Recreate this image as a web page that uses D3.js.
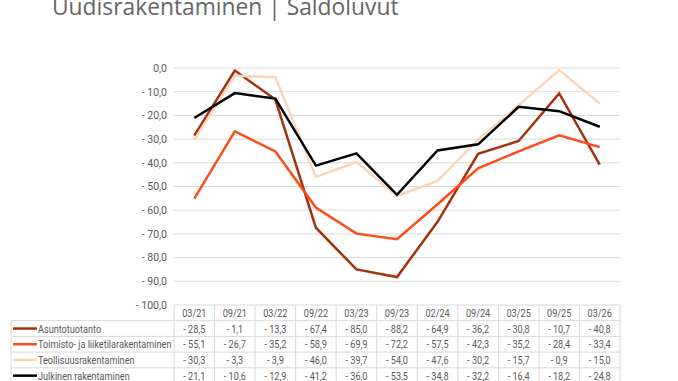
<!DOCTYPE html>
<html>
<head>
<meta charset="utf-8">
<script src="https://cdn.jsdelivr.net/npm/d3@7"></script>
<style>
  body { margin: 0; background: #fff; }
  svg { display: block; }
</style>
</head>
<body>
<div id="chart"></div>
<script>
const categories = ["03/21", "09/21", "03/22", "09/22", "03/23", "09/23", "02/24", "09/24", "03/25", "09/25", "03/26"];
const seriesNames = ["Asuntotuotanto", "Toimisto- ja liiketilarakentaminen", "Teollisuusrakentaminen", "Julkinen rakentaminen"];
const asunto = [-28.5, -1.1, -13.3, -67.4, -85.0, -88.2, -64.9, -36.2, -30.8, -10.7, -40.8];
const toimisto = [-55.1, -26.7, -35.2, -58.9, -69.9, -72.2, -57.5, -42.3, -35.2, -28.4, -33.4];
const teollisuus = [-30.3, -3.3, -3.9, -46.0, -39.7, -54.0, -47.6, -30.2, -15.7, -0.9, -15.0];
const julkinen = [-21.1, -10.6, -12.9, -41.2, -36.0, -53.5, -34.8, -32.2, -16.4, -18.2, -24.8];
const yTicks = [0, -10, -20, -30, -40, -50, -60, -70, -80, -90, -100];
const colors = ["#a3320f", "#fd4c18", "#f8d6ba", "#000000"];

const series = [asunto, toimisto, teollisuus, julkinen].map((v, i) => ({name: seriesNames[i], values: v, color: colors[i]}));

const W = 678, H = 381;
const plotLeft = 174, plotRight = 620, plotTop = 68, plotBottom = 305;
const rowH = 15.7;
const legendLeft = 11;
const narrow = 0.87; // squeeze table text horizontally like a narrow font
const fontTable = "Roboto, sans-serif";
const textColor = "#595959";

const svg = d3.select("#chart").append("svg")
    .attr("width", W).attr("height", H);

svg.append("text")
    .attr("x", 52).attr("y", 15)
    .attr("font-family", "Open Sans, sans-serif")
    .attr("font-size", 22.8)
    .attr("fill", "#666")
    .text("Uudisrakentaminen | Saldoluvut");

const x = d3.scaleBand().domain(categories).range([plotLeft, plotRight]);
const y = d3.scaleLinear().domain([-100, 0]).range([plotBottom, plotTop]);

const fmt = v => {
    const s = Math.abs(v).toFixed(1).replace(".", ",");
    return v < 0 ? "- " + s : s;
};

// narrow text helper
function narrowText(g, tx, ty, str, anchor) {
    g.append("text")
        .attr("transform", `translate(${tx},${ty}) scale(${narrow},1)`)
        .attr("text-anchor", anchor || "start")
        .attr("font-family", fontTable)
        .attr("font-size", 10.5)
        .attr("fill", textColor)
        .text(str);
}

// gridlines
svg.append("g").selectAll("line").data(yTicks).enter().append("line")
    .attr("x1", plotLeft).attr("x2", plotRight)
    .attr("y1", d => y(d)).attr("y2", d => y(d))
    .attr("stroke", "#d9d9d9").attr("stroke-width", 1);

// y axis
const yAxis = svg.append("g")
    .attr("transform", `translate(${plotLeft - 7},0)`)
    .call(d3.axisLeft(y).tickValues(yTicks).tickSize(0).tickPadding(0).tickFormat(fmt));
yAxis.select(".domain").remove();
yAxis.selectAll("text")
    .attr("font-family", fontTable)
    .attr("font-size", 10.5)
    .attr("fill", textColor);

// lines
const line = d3.line()
    .x((d, i) => x(categories[i]) + x.bandwidth() / 2)
    .y(d => y(d));

svg.append("g").selectAll("path").data(series).enter().append("path")
    .attr("d", d => line(d.values))
    .attr("fill", "none")
    .attr("stroke", d => d.color)
    .attr("stroke-width", 2.5)
    .attr("stroke-linejoin", "miter");

// table
const table = svg.append("g");
const gridColor = "#d9d9d9";
const tableBottom = plotBottom + rowH * 5;

categories.forEach(c => {
    narrowText(table, x(c) + x.bandwidth() / 2, plotBottom + rowH / 2 + 4, c, "middle");
});

// vertical lines
const vx = categories.map(c => x(c)).concat([plotRight]);
table.selectAll(".v").data(vx).enter().append("line")
    .attr("x1", d => d).attr("x2", d => d)
    .attr("y1", plotBottom).attr("y2", tableBottom)
    .attr("stroke", gridColor);
table.append("line")
    .attr("x1", legendLeft).attr("x2", legendLeft)
    .attr("y1", plotBottom + rowH).attr("y2", tableBottom)
    .attr("stroke", gridColor);

// horizontal lines
d3.range(1, 6).forEach(r => {
    table.append("line")
        .attr("x1", legendLeft).attr("x2", plotRight)
        .attr("y1", plotBottom + rowH * r).attr("y2", plotBottom + rowH * r)
        .attr("stroke", gridColor);
});

series.forEach((s, r) => {
    const cy = plotBottom + rowH * (r + 1) + rowH / 2;
    table.append("line")
        .attr("x1", legendLeft + 2).attr("x2", legendLeft + 26)
        .attr("y1", cy).attr("y2", cy)
        .attr("stroke", s.color).attr("stroke-width", 2.5);
    narrowText(table, legendLeft + 27, cy + 4, s.name, "start");
    s.values.forEach((v, i) => {
        narrowText(table, x(categories[i]) + x.bandwidth() / 2, cy + 4, fmt(v), "middle");
    });
});
</script>
</body>
</html>
